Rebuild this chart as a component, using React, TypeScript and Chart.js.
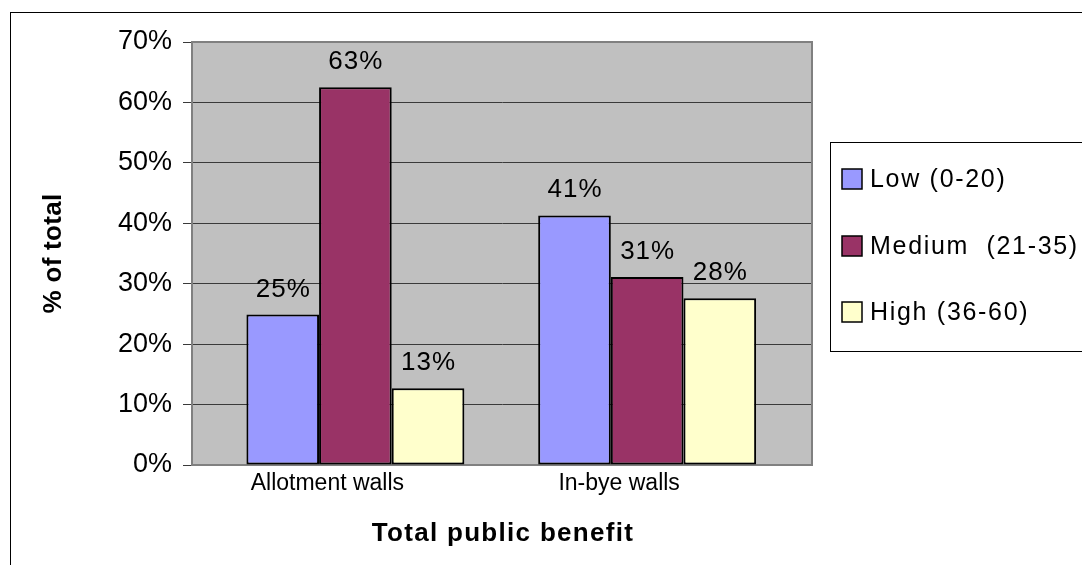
import React, { useEffect, useRef } from "react";
import { Chart, registerables } from "chart.js";

Chart.register(...registerables);

// ---- data ----
const categories = ["Allotment walls", "In-bye walls"];
const seriesNames = ["Low (0-20)", "Medium  (21-35)", "High (36-60)"];
const lowValues = [24.9, 41.3];
const mediumValues = [62.5, 31.1];
const highValues = [12.7, 27.6];
const yMin = 0;
const yMax = 70;
const yStep = 10;
const xTitle = "Total public benefit";
const yTitle = "% of total";

// ---- styles / layout ----
const FONT = "'Liberation Sans', Arial, Helvetica, sans-serif";
const seriesColors = ["#9999FF", "#993366", "#FFFFCC"];
const PLOT_BG = "#C0C0C0";
const PLOT_BORDER = "#808080";
const GRID = "#3a3a3a";
const X_MIN = -0.56;
const X_MAX = 1.565;

const plotBackground = {
  id: "plotBackground",
  beforeDraw(chart: any) {
    const { ctx, chartArea: a } = chart;
    ctx.save();
    ctx.strokeStyle = "#000";
    ctx.lineWidth = 1;
    ctx.strokeRect(10.5, 12.5, chart.width + 20, chart.height + 20);
    ctx.fillStyle = PLOT_BG;
    ctx.fillRect(a.left, a.top, a.right - a.left, a.bottom - a.top);
    ctx.restore();
  },
  beforeDatasetsDraw(chart: any) {
    const { ctx, chartArea: a } = chart;
    ctx.save();
    ctx.strokeStyle = PLOT_BORDER;
    ctx.lineWidth = 2;
    ctx.beginPath();
    ctx.moveTo(a.left, a.top);
    ctx.lineTo(a.right, a.top);
    ctx.lineTo(a.right, a.bottom);
    ctx.stroke();
    ctx.restore();
  },
};

const dataLabels = {
  id: "dataLabels",
  afterDatasetsDraw(chart: any) {
    const { ctx } = chart;
    ctx.save();
    ctx.font = `26px ${FONT}`;
    (ctx as any).letterSpacing = "1px";
    ctx.fillStyle = "#000";
    ctx.textAlign = "center";
    ctx.textBaseline = "alphabetic";
    chart.data.datasets.forEach((ds: any, i: number) => {
      const meta = chart.getDatasetMeta(i);
      meta.data.forEach((el: any, j: number) => {
        const v = ds.data[j].y;
        ctx.fillText(Math.round(v) + "%", el.x + 0.5, el.y - 18);
      });
    });
    ctx.restore();
  },
};

const titlesAndLegend = {
  id: "titlesAndLegend",
  afterDraw(chart: any) {
    const { ctx, chartArea: a } = chart;
    ctx.save();
    // axis titles
    ctx.fillStyle = "#000";
    ctx.font = `bold 26px ${FONT}`;
    (ctx as any).letterSpacing = "1.3px";
    ctx.textAlign = "center";
    ctx.textBaseline = "alphabetic";
    ctx.fillText(xTitle, (a.left + a.right) / 2 + 1, 541);
    (ctx as any).letterSpacing = "0.3px";
    ctx.save();
    ctx.translate(61, (a.top + a.bottom) / 2);
    ctx.rotate(-Math.PI / 2);
    ctx.fillText(yTitle, 0, 0);
    ctx.restore();

    // legend
    ctx.strokeStyle = "#000";
    ctx.lineWidth = 1;
    ctx.strokeRect(830.5, 142.5, 400, 209);
    const centers = [179, 246, 312];
    ctx.font = `25px ${FONT}`;
    (ctx as any).letterSpacing = "1.7px";
    ctx.textBaseline = "middle";
    ctx.textAlign = "left";
    chart.data.datasets.forEach((ds: any, i: number) => {
      const cy = centers[i];
      ctx.fillStyle = ds.backgroundColor;
      ctx.fillRect(842, cy - 10, 20, 20);
      ctx.strokeStyle = "#000";
      ctx.lineWidth = 1.5;
      ctx.strokeRect(842, cy - 10, 20, 20);
      ctx.fillStyle = "#000";
      ctx.fillText(ds.label, 870, cy + 1);
    });
    ctx.restore();
  },
};

export default function App() {
  const ref = useRef<HTMLCanvasElement>(null);

  useEffect(() => {
    if (!ref.current) return;
    const valueSets = [lowValues, mediumValues, highValues];
    const chart = new Chart(ref.current, {
      type: "bar",
      data: {
        datasets: seriesNames.map((name, i) => ({
          label: name,
          data: categories.map((_, k) => ({ x: k, y: valueSets[i][k] })),
          backgroundColor: seriesColors[i],
          borderColor: "#000",
          borderWidth: 2,
          borderSkipped: false,
          barPercentage: 1.0,
          categoryPercentage: 0.747,
        })),
      },
      options: {
        responsive: false,
        animation: false,
        events: [],
        layout: { padding: { left: 0, top: 42, right: 270, bottom: 0 } },
        plugins: {
          legend: { display: false },
          tooltip: { enabled: false },
          title: { display: false },
        },
        scales: {
          x: {
            type: "linear",
            min: X_MIN,
            max: X_MAX,
            offset: false,
            grid: { display: false, drawTicks: false, offset: false },
            border: { display: true, color: PLOT_BORDER, width: 2 },
            afterBuildTicks(scale: any) {
              scale.ticks = categories.map((_, i) => ({ value: i }));
            },
            ticks: {
              color: "#000",
              font: { family: FONT, size: 23 },
              padding: 5,
              autoSkip: false,
              maxRotation: 0,
              labelOffset: -28,
              callback: (v: any) => categories[v] ?? "",
            },
            afterFit(scale: any) {
              scale.height = 100;
            },
          },
          y: {
            min: yMin,
            max: yMax,
            ticks: {
              stepSize: yStep,
              color: "#000",
              font: { family: FONT, size: 27 },
              padding: 11,
              callback: (v: any) => v + "%",
            },
            grid: {
              color: GRID,
              lineWidth: 1,
              drawTicks: true,
              tickLength: 9,
              tickColor: GRID,
            },
            border: { display: true, color: PLOT_BORDER, width: 2 },
            afterFit(scale: any) {
              scale.width = 192;
            },
          },
        },
      },
      plugins: [plotBackground, dataLabels, titlesAndLegend],
    });
    return () => chart.destroy();
  }, []);

  return (
    <div style={{ position: "fixed", left: 0, top: 0, width: 1082, height: 565, background: "#fff" }}>
      <canvas ref={ref} width={1082} height={565} style={{ display: "block" }} />
    </div>
  );
}
